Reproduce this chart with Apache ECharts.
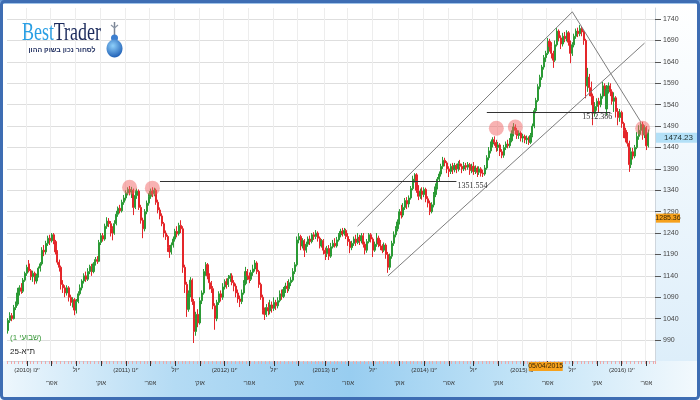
<!DOCTYPE html>
<html><head><meta charset="utf-8">
<script src="https://cdn.jsdelivr.net/npm/echarts@6/dist/echarts.min.js"></script>
<style>html,body{margin:0;padding:0;background:#fff}#c{width:700px;height:400px}</style>
</head><body><div id="c"></div>
<script>
// ---- data ----
const startWeek = '2009-10-26';
const weekCount = 341;
const yTicks = [990,1040,1090,1140,1190,1240,1290,1340,1390,1440,1490,1540,1590,1640,1690,1740];
const row1Months = {0:"ינו'", 6:"יול'"};
const row2Months = {3:"אפר'\u200F", 9:"אוק'\u200F"};
// weekly candles [open, close, low, high]
const ohlc = [
[1012,1036,1005,1041],[1036,1047,1030,1055],[1047,1040,1034,1053],[1040,1066,1038,1072],[1066,1074,1060,1080],[1074,1100,1070,1112],[1100,1112,1094,1118],[1112,1104,1098,1123],
[1104,1130,1100,1135],[1130,1146,1126,1150],[1146,1160,1140,1166],[1168,1152,1148,1177],[1152,1138,1130,1156],[1138,1146,1126,1152],[1146,1128,1120,1150],[1128,1140,1122,1145],
[1140,1158,1136,1162],[1158,1168,1150,1172],[1168,1200,1164,1207],[1200,1196,1186,1212],[1196,1216,1190,1222],[1216,1228,1210,1234],[1228,1222,1212,1236],[1222,1236,1218,1240],
[1236,1220,1214,1240],[1220,1196,1190,1224],[1196,1172,1166,1200],[1172,1160,1150,1178],[1160,1120,1108,1164],[1120,1112,1100,1130],[1112,1100,1090,1118],[1100,1112,1094,1118],
[1112,1090,1080,1116],[1090,1078,1070,1096],[1078,1084,1066,1090],[1084,1060,1048,1088],[1060,1080,1052,1086],[1080,1098,1076,1104],[1098,1112,1094,1120],[1112,1128,1106,1132],
[1128,1140,1122,1146],[1140,1132,1126,1150],[1132,1150,1128,1158],[1150,1162,1144,1166],[1162,1150,1140,1168],[1150,1168,1146,1172],[1168,1178,1164,1184],[1178,1174,1168,1186],
[1174,1218,1172,1224],[1218,1234,1212,1240],[1234,1226,1220,1240],[1226,1256,1222,1262],[1256,1268,1250,1277],[1268,1262,1254,1275],[1262,1250,1232,1268],[1250,1240,1223,1256],
[1240,1262,1236,1270],[1262,1284,1258,1292],[1284,1298,1278,1302],[1298,1292,1286,1306],[1292,1312,1288,1318],[1312,1322,1306,1329],[1322,1334,1316,1340],[1334,1342,1328,1347],
[1342,1336,1328,1350],[1336,1340,1322,1348],[1340,1300,1282,1344],[1300,1328,1296,1340],[1328,1338,1320,1344],[1338,1300,1294,1342],[1300,1270,1262,1306],[1270,1250,1228,1276],
[1250,1290,1244,1296],[1290,1310,1284,1316],[1310,1326,1304,1333],[1326,1338,1320,1344],[1338,1332,1324,1347],[1332,1340,1326,1346],[1340,1312,1306,1344],[1312,1294,1286,1318],
[1294,1280,1272,1300],[1280,1262,1256,1286],[1262,1240,1230,1266],[1240,1232,1224,1246],[1232,1206,1196,1236],[1206,1196,1182,1212],[1196,1212,1190,1218],[1212,1226,1206,1232],
[1226,1244,1220,1250],[1244,1238,1230,1256],[1238,1258,1234,1264],[1258,1250,1240,1270],[1250,1160,1147,1256],[1160,1120,1100,1166],[1120,1062,1044,1126],[1062,1098,1056,1106],
[1098,1130,1090,1137],[1130,1080,1072,1134],[1080,1010,983,1086],[1010,1050,1000,1056],[1050,1030,1020,1062],[1030,1082,1026,1090],[1082,1100,1074,1106],[1100,1150,1096,1156],
[1150,1166,1140,1172],[1166,1140,1132,1170],[1140,1124,1108,1146],[1124,1110,1100,1128],[1110,1070,1062,1116],[1070,1040,1014,1076],[1040,1078,1034,1084],[1078,1098,1072,1104],
[1098,1090,1080,1106],[1090,1114,1084,1123],[1114,1126,1108,1132],[1126,1120,1110,1134],[1120,1134,1114,1142],[1134,1140,1126,1146],[1140,1124,1118,1146],[1124,1116,1104,1130],
[1116,1100,1090,1122],[1100,1086,1077,1108],[1086,1080,1067,1094],[1080,1100,1074,1108],[1100,1122,1096,1130],[1122,1150,1118,1161],[1150,1140,1130,1156],[1140,1132,1123,1148],
[1132,1148,1128,1154],[1148,1156,1140,1166],[1156,1170,1150,1177],[1170,1150,1144,1174],[1150,1120,1112,1154],[1120,1090,1084,1124],[1090,1060,1050,1096],[1060,1050,1037,1066],
[1050,1066,1044,1074],[1066,1058,1048,1078],[1058,1072,1050,1084],[1072,1064,1054,1080],[1064,1078,1058,1090],[1078,1070,1060,1084],[1070,1082,1064,1090],[1082,1098,1078,1106],
[1098,1092,1084,1108],[1092,1108,1088,1114],[1108,1116,1100,1124],[1116,1110,1100,1128],[1110,1124,1104,1132],[1124,1130,1116,1137],[1130,1150,1126,1158],[1150,1166,1144,1172],
[1166,1224,1162,1232],[1224,1232,1216,1240],[1232,1210,1200,1236],[1210,1222,1204,1228],[1222,1200,1184,1226],[1200,1214,1194,1220],[1214,1226,1208,1232],[1226,1220,1212,1234],
[1220,1236,1216,1240],[1236,1232,1224,1242],[1232,1240,1226,1247],[1240,1228,1220,1244],[1228,1210,1204,1232],[1210,1222,1206,1226],[1222,1200,1190,1226],[1200,1192,1177,1206],
[1192,1204,1184,1210],[1204,1186,1177,1212],[1186,1208,1182,1217],[1208,1216,1204,1224],[1216,1210,1206,1228],[1210,1224,1206,1231],[1224,1236,1220,1240],[1236,1244,1230,1250],
[1244,1238,1232,1252],[1238,1246,1234,1252],[1246,1232,1226,1250],[1232,1220,1210,1240],[1220,1206,1193,1226],[1206,1216,1200,1222],[1216,1226,1210,1232],[1226,1218,1210,1236],
[1218,1230,1214,1240],[1230,1222,1212,1236],[1222,1234,1216,1240],[1234,1214,1206,1240],[1214,1200,1190,1220],[1200,1220,1194,1226],[1220,1236,1216,1240],[1236,1226,1218,1240],
[1226,1200,1184,1230],[1200,1214,1196,1220],[1214,1228,1208,1240],[1228,1216,1207,1234],[1216,1210,1200,1224],[1210,1200,1193,1214],[1200,1212,1196,1218],[1212,1190,1180,1216],
[1190,1160,1147,1196],[1160,1186,1154,1192],[1186,1216,1180,1222],[1216,1236,1210,1244],[1236,1250,1230,1256],[1250,1266,1244,1272],[1266,1290,1260,1296],[1290,1282,1274,1306],
[1282,1300,1277,1310],[1300,1316,1294,1322],[1316,1308,1296,1324],[1308,1322,1300,1328],[1322,1344,1318,1350],[1344,1366,1340,1374],[1366,1376,1358,1380],[1376,1340,1334,1380],
[1340,1326,1317,1352],[1326,1338,1320,1344],[1338,1330,1318,1347],[1330,1342,1324,1347],[1342,1320,1312,1346],[1320,1310,1300,1326],[1310,1290,1282,1316],[1290,1306,1286,1312],
[1306,1330,1300,1336],[1330,1348,1324,1356],[1348,1366,1342,1371],[1366,1378,1360,1384],[1378,1396,1372,1402],[1396,1410,1390,1418],[1410,1404,1396,1416],[1404,1390,1380,1408],
[1390,1384,1371,1396],[1384,1396,1378,1402],[1396,1388,1378,1404],[1388,1398,1382,1404],[1398,1390,1380,1402],[1390,1402,1384,1408],[1402,1396,1388,1411],[1396,1390,1380,1402],
[1390,1398,1385,1406],[1398,1394,1386,1404],[1394,1400,1388,1406],[1400,1386,1376,1404],[1386,1396,1380,1402],[1396,1384,1376,1406],[1384,1392,1378,1398],[1392,1382,1371,1396],
[1382,1390,1376,1396],[1390,1380,1372,1394],[1380,1378,1371,1388],[1378,1392,1374,1399],[1392,1416,1388,1422],[1416,1432,1410,1441],[1432,1448,1426,1454],[1448,1458,1440,1464],
[1458,1452,1444,1466],[1452,1440,1430,1458],[1440,1446,1432,1453],[1446,1430,1420,1450],[1430,1422,1415,1436],[1422,1440,1416,1446],[1440,1448,1434,1454],[1448,1444,1438,1458],
[1444,1456,1439,1462],[1456,1472,1452,1480],[1472,1488,1466,1497],[1488,1480,1470,1494],[1480,1468,1460,1486],[1468,1474,1460,1480],[1474,1462,1454,1478],[1462,1466,1452,1472],
[1466,1458,1450,1470],[1458,1462,1448,1468],[1462,1452,1446,1466],[1452,1468,1448,1474],[1468,1490,1464,1496],[1490,1526,1485,1532],[1526,1550,1520,1556],[1550,1582,1546,1588],
[1582,1604,1576,1610],[1604,1628,1598,1633],[1628,1650,1622,1656],[1650,1660,1640,1666],[1660,1688,1656,1696],[1688,1676,1664,1694],[1676,1660,1648,1686],[1660,1644,1626,1666],
[1644,1680,1640,1690],[1680,1712,1676,1719],[1712,1696,1688,1716],[1696,1682,1670,1702],[1682,1700,1676,1708],[1700,1694,1686,1710],[1694,1708,1688,1714],[1708,1686,1678,1712],
[1686,1660,1637,1690],[1660,1680,1654,1686],[1680,1700,1674,1706],[1700,1712,1694,1718],[1712,1706,1698,1720],[1706,1718,1700,1726],[1718,1710,1700,1724],[1710,1690,1680,1714],
[1690,1584,1555,1694],[1584,1604,1570,1626],[1604,1580,1560,1612],[1580,1560,1539,1594],[1560,1520,1492,1566],[1520,1536,1512,1546],[1536,1548,1526,1555],[1548,1540,1523,1556],
[1540,1560,1534,1566],[1560,1584,1554,1593],[1584,1572,1560,1590],[1530,1576,1516,1586],[1576,1584,1566,1592],[1584,1570,1560,1590],[1570,1548,1540,1576],[1548,1556,1523,1569],
[1556,1524,1510,1560],[1524,1510,1492,1532],[1510,1522,1500,1530],[1522,1496,1486,1526],[1496,1480,1462,1500],[1480,1462,1452,1486],[1462,1450,1442,1476],[1450,1400,1383,1456],
[1400,1430,1392,1440],[1430,1420,1412,1439],[1420,1440,1415,1446],[1440,1466,1436,1476],[1466,1480,1458,1492],[1480,1494,1470,1499],[1494,1470,1458,1500],[1470,1486,1462,1492],
[1486,1444,1434,1490],[1444,1474.23,1440,1482]
];
// highlighted tops [weekIndex, value]
const circles = [[64,1347],[76,1345],[257,1485],[267,1488],[334,1485]];
// drawn trendlines [[weekIndex, value],[weekIndex, value]]
const channelUpper = [[184,1256],[297,1757]];
const channelLower = [[200,1140],[335,1684]];
const downLine = [[297,1757],[333,1500]];
const level1 = [[80,1361],[236,1361]];
const level2 = [[252,1523],[317,1523]];
const level1Text = '1351.554';
const level2Text = '1512.386';
const lastPrice = 1474.23;
const markPrice = 1285.36;
const markDate = '2015-04-05';
const markDateText = '05/04/2015';

// ---- categories ----
const cats = [];
const d0 = Date.UTC(2009, 9, 26);
for (let i = 0; i < weekCount; i++) cats.push(new Date(d0 + i * 7 * 864e5).toISOString().slice(0, 10));
const monthOf = i => +cats[i].slice(5, 7) - 1;
const isQ = i => i > 0 && monthOf(i) !== monthOf(i - 1) && monthOf(i) % 3 === 0;

const chart = echarts.init(document.getElementById('c'), null, {renderer: 'canvas', width: 700, height: 400});
const lblFont = '"Liberation Sans Narrow","Liberation Sans",Arial,sans-serif';
const mlItem = (pts, color) => [{coord: pts[0], lineStyle: {color: color}}, {coord: pts[1]}];

chart.setOption({
  animation: false,
  grid: {left: 7, right: 45, top: 8, bottom: 39, show: true, backgroundColor: '#fff', borderWidth: 0, outerBoundsMode: 'none'},
  xAxis: [
    {type: 'category', data: cats, boundaryGap: true,
     axisLine: {show: true, lineStyle: {color: '#c9d6e2'}},
     axisTick: {show: true, alignWithLabel: true, interval: i => isQ(i), length: 5, lineStyle: {color: '#333'}},
     axisLabel: {show: true, hideOverlap: false, interval: i => isQ(i) && monthOf(i) % 6 === 0,
       formatter: (v, i) => monthOf(i) === 0 ? '(' + v.slice(0, 4) + ') ' + row1Months[0] : row1Months[6],
       fontSize: 6, color: '#333', margin: 6, fontFamily: lblFont},
     splitLine: {show: true, interval: i => isQ(i), lineStyle: {color: '#ededed'}}},
    {type: 'category', data: cats, position: 'bottom', boundaryGap: true,
     axisLine: {show: false},
     axisTick: {show: true, interval: 1, length: 3, lineStyle: {color: '#f1a7a7'}},
     axisLabel: {show: true, hideOverlap: false, interval: i => isQ(i) && monthOf(i) % 6 === 3,
       formatter: (v, i) => row2Months[monthOf(i)] || '',
       fontSize: 6, color: '#333', margin: 19, fontFamily: lblFont},
     splitLine: {show: false}}
  ],
  yAxis: {type: 'value', position: 'right', min: 941, max: 1766,
    axisLine: {show: true, lineStyle: {color: '#cfd6dd'}},
    axisTick: {show: true, customValues: yTicks, length: 6, lineStyle: {color: '#555'}},
    axisLabel: {customValues: yTicks, formatter: v => String(v), fontSize: 7, color: '#444', margin: 8, fontFamily: lblFont},
    splitLine: {show: true, lineStyle: {color: '#dedede'}}},
  series: [
    {type: 'candlestick', data: ohlc, barWidth: 1.6, large: false,
     itemStyle: {color: '#2b9a35', color0: '#e4262a', borderColor: '#2b9a35', borderColor0: '#e4262a', borderWidth: 1},
     markLine: {silent: true, symbol: ['none', 'none'], label: {show: false},
       lineStyle: {type: 'solid', width: 1},
       data: [mlItem(channelUpper, '#7d7d7d'), mlItem(channelLower, '#7d7d7d'), mlItem(downLine, '#7d7d7d'),
              mlItem(level1, '#333'), mlItem(level2, '#333')]}},
    {type: 'scatter', data: circles, symbolSize: 15, z: 5, silent: true,
     itemStyle: {color: 'rgba(240,100,100,0.62)'}}
  ]
});

// ---- labels / decorations placed through the chart's scales ----
const P = (i, v) => chart.convertToPixel({xAxisIndex: 0, yAxisIndex: 0}, [i, v]);
const yPx = v => chart.convertToPixel({yAxisIndex: 0}, v);
let di = 0;
for (let i = 0; i < cats.length; i++) if (cats[i] <= markDate) di = i;
const dateX = chart.convertToPixel({xAxisIndex: 0}, cats[di]);
const l1 = P(level1[1][0], level1[1][1]);
const l2 = P(level2[1][0], level2[1][1]);
const G = echarts.graphic;
const lastY = yPx(lastPrice), markY = yPx(markPrice);

chart.setOption({graphic: {elements: [
  {type: 'rect', z: -100, shape: {x: 0, y: 0, width: 700, height: 400}, style: {fill: '#fff'}},
  {type: 'rect', z: -99, shape: {x: 655, y: 3, width: 43, height: 358},
   style: {fill: new G.LinearGradient(0, 0, 0, 1, [{offset: 0, color: '#ffffff'}, {offset: 1, color: '#ddeefa'}])}},
  {type: 'rect', z: -99, shape: {x: 0, y: 361, width: 700, height: 39},
   style: {fill: new G.LinearGradient(0, 0, 1, 0, [{offset: 0, color: '#eef7fd'}, {offset: 0.25, color: '#b4dbf4'},
     {offset: 0.5, color: '#98cdf0'}, {offset: 0.75, color: '#c3e4f7'}, {offset: 1, color: '#f3f9fd'}])}},
  {type: 'rect', z: 200, shape: {x: 0, y: 0, width: 700, height: 4},
   style: {fill: new G.LinearGradient(0, 0, 0, 1, [{offset: 0, color: '#5d8fd0'}, {offset: 1, color: '#a9cbee'}])}},
  {type: 'rect', z: 201, shape: {x: 1.5, y: 1.5, width: 697, height: 397, r: 3}, style: {fill: null, stroke: '#3e6db3', lineWidth: 3}},
  // logo
  {type: 'group', z: 150, x: 22, y: 0, scaleX: 0.72, children: [
    {type: 'text', z: 150, x: 0, y: 33, style: {text: 'Best', font: '25px "Liberation Serif"', verticalAlign: 'middle', fill: '#2a9fe4'}},
    {type: 'text', z: 150, x: 44, y: 33, style: {text: 'Trader', font: '25px "Liberation Serif"', verticalAlign: 'middle', fill: '#1b2a5c'}}
  ]},
  {type: 'text', z: 150, x: 62, y: 50, style: {text: 'לסחור נכון בשוק ההון', font: 'bold 7px "Liberation Sans"', align: 'center', verticalAlign: 'middle', fill: '#1b2a5c'}},
  {type: 'line', z: 150, shape: {x1: 114.5, y1: 22, x2: 114.5, y2: 37}, style: {stroke: '#7a8494', lineWidth: 1.5}},
  {type: 'polyline', z: 150, shape: {points: [[111, 25], [114.5, 28], [118, 25]]}, style: {stroke: '#8a94a4', lineWidth: 1.2, fill: null}},
  {type: 'circle', z: 150, shape: {cx: 114.5, cy: 38, r: 3.5}, style: {fill: '#3d7fd0'}},
  {type: 'ellipse', z: 151, shape: {cx: 114.5, cy: 48.5, rx: 8, ry: 9},
   style: {fill: new G.RadialGradient(0.4, 0.35, 0.8, [{offset: 0, color: '#8fd0fa'}, {offset: 1, color: '#1656b0'}])}},
  // bottom-left texts
  {type: 'text', z: 150, x: 10, y: 338, style: {text: '(שבועי 1)', font: '8px "Liberation Sans"', verticalAlign: 'middle', fill: '#3c9a3c'}},
  {type: 'text', z: 150, x: 10, y: 352, style: {text: 'ת"א-25', font: '8px "Liberation Sans"', verticalAlign: 'middle', fill: '#222'}},
  // level labels
  {type: 'text', z: 150, x: l1[0] + 1, y: l1[1] + 1, style: {text: level1Text, font: '8px "Liberation Serif"', verticalAlign: 'top', fill: '#333'}},
  {type: 'text', z: 150, x: l2[0] + 2, y: l2[1] + 1, style: {text: level2Text, font: '8px "Liberation Serif"', align: 'right', verticalAlign: 'top', fill: '#333'}},
  // price boxes
  {type: 'rect', z: 150, shape: {x: 656, y: lastY, width: 41, height: 10}, style: {fill: '#b3e0f7'}},
  {type: 'text', z: 151, x: 693, y: lastY + 5, style: {text: lastPrice.toFixed(2), font: '8px ' + lblFont, align: 'right', verticalAlign: 'middle', fill: '#233'}},
  {type: 'rect', z: 150, shape: {x: 656, y: markY, width: 24, height: 9}, style: {fill: '#f6a11c'}},
  {type: 'text', z: 151, x: 668, y: markY + 4.5, style: {text: markPrice.toFixed(2), font: '7px ' + lblFont, align: 'center', verticalAlign: 'middle', fill: '#3a2808'}},
  {type: 'rect', z: 150, shape: {x: dateX - 17, y: 362, width: 34, height: 9}, style: {fill: '#f6a11c'}},
  {type: 'text', z: 151, x: dateX, y: 366.5, style: {text: markDateText, font: '7px ' + lblFont, align: 'center', verticalAlign: 'middle', fill: '#3a2808'}}
]}});
</script>
</body></html>
